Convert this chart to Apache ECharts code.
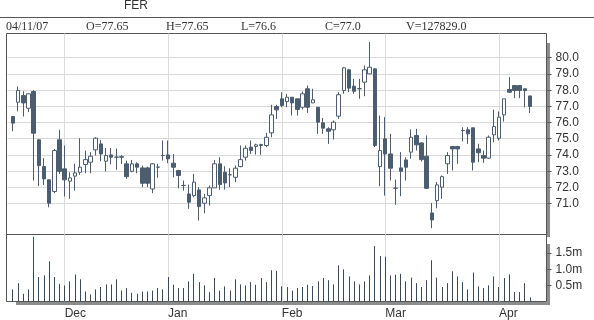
<!DOCTYPE html>
<html><head><meta charset="utf-8">
<script src="https://cdn.jsdelivr.net/npm/echarts@6/dist/echarts.min.js"></script>
<style>html,body{margin:0;padding:0;background:#fff}#c{width:594px;height:320px}</style>
</head><body><div id="c"></div>
<script>
const symbol = 'FER';
const lastDate = '04/11/07';
const openP = [76.38,77.26,77.67,76.89,77.92,74.94,73.29,72.47,71.75,74.94,73.15,72.39,72.70,72.94,73.42,73.56,74.32,74.69,73.62,74.01,
73.87,73.90,73.46,73.00,73.46,73.21,73.21,71.91,73.25,73.97,74.01,73.50,73.05,72.12,71.60,71.50,71.85,71.03,71.50,71.98,
73.46,72.94,72.78,72.63,73.29,73.87,74.49,74.53,74.59,74.59,75.37,77.00,77.47,77.30,77.57,77.47,76.95,78.09,77.22,76.95,
75.99,75.62,75.56,76.40,77.98,79.26,78.25,78.09,78.50,79.01,79.32,73.29,75.00,74.07,71.95,73.21,73.70,74.18,75.21,74.75,
73.93,70.43,71.19,72.02,73.46,74.53,74.53,75.51,75.56,75.68,74.38,73.97,73.81,75.25,75.04,76.48,78.05,78.29,78.29,78.09,77.65];
const closeP = [75.97,77.98,77.22,77.78,75.35,73.35,72.53,71.03,74.28,73.00,72.47,72.59,72.90,73.25,73.72,73.93,75.04,74.07,73.97,73.87,
73.88,73.87,72.67,73.46,73.25,72.26,72.26,73.46,73.26,73.98,73.77,73.25,72.74,72.13,71.09,72.33,70.82,71.36,71.98,73.46,
72.18,72.28,72.79,73.19,73.72,74.42,74.28,74.63,74.65,75.10,76.48,76.79,77.06,77.57,77.22,76.81,77.78,76.95,77.41,76.03,
75.66,75.47,76.03,77.72,79.38,78.13,77.94,78.10,79.26,79.42,74.59,74.28,74.07,73.19,71.96,73.00,73.25,75.10,74.63,73.72,
71.95,70.00,72.16,72.67,73.97,74.38,74.38,75.52,75.31,73.56,74.14,73.81,75.10,75.76,76.34,77.47,77.88,77.98,77.98,77.98,77.00];
const lowP = [75.47,76.69,76.38,76.65,72.43,72.08,72.16,70.78,71.65,72.84,71.44,71.30,71.81,72.78,72.88,72.88,73.97,73.62,73.00,73.43,
73.09,73.45,72.53,72.94,72.88,72.02,72.02,71.65,72.60,73.66,73.50,72.63,71.95,71.81,70.68,71.40,69.96,70.41,70.88,71.98,
71.85,71.87,72.02,72.33,73.25,73.66,74.07,74.03,74.01,74.49,75.10,76.23,76.95,76.95,76.44,76.44,76.81,76.60,77.22,75.31,
75.31,74.69,74.96,76.23,77.78,77.88,77.78,77.47,77.63,79.01,74.49,72.08,71.50,72.43,70.93,71.46,72.43,73.77,74.28,73.60,
71.91,69.49,70.72,71.30,72.84,73.05,73.46,74.84,74.69,73.05,73.56,73.52,73.77,74.79,74.90,76.07,77.84,77.51,77.51,76.95,76.60];
const highP = [76.40,78.23,77.94,77.80,78.00,75.00,73.81,72.50,74.38,75.56,74.59,72.94,73.46,75.04,74.28,74.18,75.10,74.94,74.44,74.44,
74.40,74.00,73.66,73.70,73.56,73.35,73.29,73.50,73.46,74.90,74.90,74.07,73.09,72.43,72.18,72.84,72.02,71.60,72.12,73.70,
73.87,73.31,73.19,73.35,74.59,74.59,74.90,74.70,74.70,75.37,77.10,77.10,77.88,77.78,77.57,77.47,77.92,78.29,78.09,76.95,
76.28,75.72,76.13,77.88,79.42,79.32,78.70,78.70,79.53,80.97,79.36,76.44,76.34,75.31,72.49,74.18,73.87,75.58,75.62,74.79,
75.21,71.05,72.33,72.74,74.18,74.53,74.53,75.72,75.72,75.68,74.70,74.28,75.21,76.81,76.69,77.47,78.81,78.29,78.29,78.09,77.65];
const volume = [375000,570000,240000,375000,2010000,760000,810000,1250000,760000,550000,500000,625000,840000,690000,310000,220000,375000,450000,530000,530000,
690000,340000,420000,270000,240000,310000,310000,340000,420000,375000,760000,520000,420000,420000,625000,860000,600000,500000,290000,730000,
340000,470000,340000,690000,530000,500000,600000,520000,730000,600000,970000,950000,470000,450000,340000,420000,450000,520000,480000,625000,
730000,660000,530000,1120000,1000000,780000,625000,530000,625000,810000,1720000,1410000,1390000,810000,830000,860000,625000,740000,570000,450000,
660000,1280000,740000,450000,570000,940000,780000,600000,375000,900000,470000,420000,500000,780000,450000,730000,840000,290000,290000,570000,127829];
const monthTickIndex = [10,30,52,72,94];
const monthLabels = ['Dec','Jan','Feb','Mar','Apr'];
const priceTicks = [71,72,73,74,75,76,77,78,79,80];
const volumeTicks = [500000,1000000,1500000];

const candleData = openP.map((o,i)=>[i,o,closeP[i],lowP[i],highP[i]]);
const volData = volume.map((v,i)=>[i,v]);
const n = openP.length-1;
function fmtP(v){let s=v.toFixed(2); if(s.endsWith('0')) s=s.slice(0,-1); return s;}
const headerItems = [
  [6, lastDate],
  [86, 'O='+fmtP(openP[n])],
  [166, 'H='+fmtP(highP[n])],
  [241, 'L='+fmtP(lowP[n])],
  [325, 'C='+fmtP(closeP[n])],
  [406, 'V='+volume[n].toFixed(1)]
];
const dark = '#4b5d6f';
const xMin = -1.257, xMax = 103.19;
const labelFont = {color:'#333', fontSize:12, fontFamily:'Liberation Sans, Arial, sans-serif'};

// gridline (optional) + outside tick at the right edge, positioned through the axis scale
function tickRenderer(withGrid){
  return function(params, api){
    const cs = params.coordSys;
    const p = api.coord([api.value(0), api.value(1)]);
    const y = Math.round(p[1]-0.5)+0.5;
    const right = cs.x + cs.width;
    const kids = [{type:'rect', shape:{x:right+1, y:y-0.5, width:4, height:1}, style:{fill:'#555'}}];
    if (withGrid) kids.push({type:'rect', shape:{x:cs.x+1, y:y-0.5, width:cs.width-2, height:1}, style:{fill:'#d9d9d9'}});
    return {type:'group', children:kids};
  };
}

const chart = echarts.init(document.getElementById('c'));
chart.setOption({
  animation:false,
  backgroundColor:'#fff',
  title:{text:symbol, left:124, top:0, padding:0, textStyle:{fontSize:12, fontWeight:'normal', color:'#333', fontFamily:'Liberation Sans, Arial, sans-serif'}},
  grid:[
    {left:6.5, top:33.5, width:540, height:201, show:true, z:0, borderColor:'#555', borderWidth:1, backgroundColor:'transparent'},
    {left:6.5, top:234.5, width:540, height:67, show:true, z:0, borderColor:'#555', borderWidth:1, backgroundColor:'transparent'}
  ],
  xAxis:[
    {type:'value', gridIndex:0, min:xMin, max:xMax, axisLine:{show:false, onZero:false},
     axisTick:{show:false, customValues:monthTickIndex}, axisLabel:{show:false, customValues:monthTickIndex},
     splitLine:{show:true, lineStyle:{color:'#dcdcdc', width:1}}},
    {type:'value', gridIndex:1, min:xMin, max:xMax, axisLine:{show:false, onZero:false},
     axisTick:{show:false, customValues:monthTickIndex},
     axisLabel:Object.assign({show:true, customValues:monthTickIndex, align:'left', margin:6,
       formatter:v=>monthLabels[monthTickIndex.indexOf(v)]}, labelFont),
     splitLine:{show:true, lineStyle:{color:'#dcdcdc', width:1}}}
  ],
  yAxis:[
    {type:'value', gridIndex:0, position:'right', min:69.1, max:81.5, axisLine:{show:false, onZero:false},
     axisTick:{show:false},
     axisLabel:Object.assign({customValues:priceTicks, margin:9, formatter:v=>v.toFixed(1)}, labelFont),
     splitLine:{show:false}},
    {type:'value', gridIndex:1, position:'right', min:0, max:2080000, axisLine:{show:false, onZero:false},
     axisTick:{show:false},
     axisLabel:Object.assign({customValues:volumeTicks, margin:9, formatter:v=>(v/1e6).toFixed(1)+'m'}, labelFont),
     splitLine:{show:false}}
  ],
  series:[
    {type:'custom', name:'grid', xAxisIndex:0, yAxisIndex:0, data:priceTicks.map(v=>[50,v]),
     encode:{x:0,y:1}, clip:false, silent:true, z:5, renderItem:tickRenderer(true)},
    {type:'custom', name:'vticks', xAxisIndex:1, yAxisIndex:1, data:volumeTicks.map(v=>[50,v]),
     encode:{x:0,y:1}, clip:false, silent:true, z:5, renderItem:tickRenderer(false)},
    {type:'candlestick', xAxisIndex:0, yAxisIndex:0, data:candleData, encode:{x:0, y:[1,2,3,4]},
     barWidth:4, z:10,
     itemStyle:{color:'#ffffff', color0:dark, borderColor:dark, borderColor0:dark, borderWidth:1}},
    {type:'custom', xAxisIndex:1, yAxisIndex:1, data:volData, encode:{x:0,y:1}, z:10,
     renderItem:function(params, api){
       const top = api.coord([api.value(0), api.value(1)]);
       const base = api.coord([api.value(0), 0]);
       const x = Math.round(top[0]-0.5)+0.5;
       return {type:'line', shape:{x1:x, y1:base[1], x2:x, y2:top[1]}, style:{stroke:'#3b4a59', lineWidth:1}};
     }}
  ],
  graphic:[
    {type:'line', shape:{x1:0,y1:17.5,x2:594,y2:17.5}, style:{stroke:'#555', lineWidth:1}},
    {type:'rect', shape:{x:547,y:43,width:3,height:194}, style:{fill:'#8c8c8c'}, z:-10},
    {type:'rect', shape:{x:547,y:244,width:3,height:60}, style:{fill:'#8c8c8c'}, z:-10},
    {type:'rect', shape:{x:16,y:302,width:534,height:3}, style:{fill:'#8c8c8c'}, z:-10}
  ].concat(headerItems.map(h=>({type:'text', x:h[0], y:26.5,
     style:{text:h[1], fill:'#333', font:'12px "Liberation Serif", "Times New Roman", serif', textVerticalAlign:'middle', verticalAlign:'middle'}})))
});
</script></body></html>
